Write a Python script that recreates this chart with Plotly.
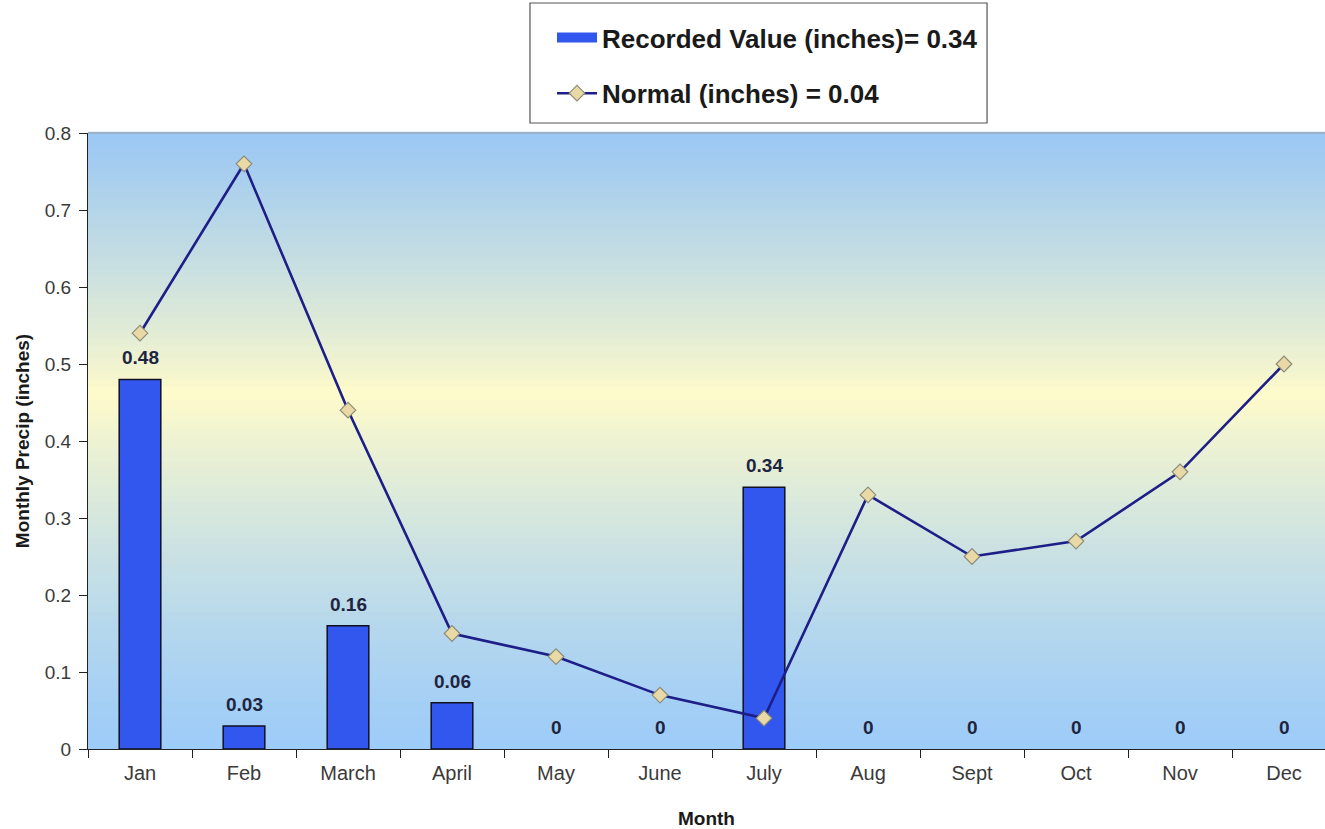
import plotly.graph_objects as go

months = ["Jan", "Feb", "March", "April", "May", "June", "July", "Aug", "Sept", "Oct", "Nov", "Dec"]
recorded = [0.48, 0.03, 0.16, 0.06, 0, 0, 0.34, 0, 0, 0, 0, 0]
normal = [0.54, 0.76, 0.44, 0.15, 0.12, 0.07, 0.04, 0.33, 0.25, 0.27, 0.36, 0.50]
recorded_name = "Recorded Value (inches)= 0.34"
normal_name = "Normal (inches) = 0.04"
y_ticks = [0, 0.1, 0.2, 0.3, 0.4, 0.5, 0.6, 0.7, 0.8]

FONT = "Arial, Liberation Sans, sans-serif"
BAR_COLOR = "#3157EE"

fig = go.Figure()

fig.add_trace(go.Bar(
    x=months, y=recorded, name=recorded_name, width=0.4,
    marker=dict(color=BAR_COLOR,
                line=dict(color="#101020", width=[1.5 if v > 0 else 0 for v in recorded])),
    showlegend=False,
))
# legend-only entry drawn as a wide blue block, like the original legend key
fig.add_trace(go.Scatter(
    x=[None], y=[None], name=recorded_name, mode="lines",
    line=dict(color=BAR_COLOR, width=15), legendgroup="a",
))
fig.add_trace(go.Scatter(
    x=months, y=normal, name=normal_name, mode="lines+markers",
    line=dict(color="#1E1E88", width=2.6),
    marker=dict(symbol="diamond", size=12, color="#E9D9A6", line=dict(color="#8C8C78", width=1.2)),
    legendgroup="b",
))

# bar value labels
for m, v in zip(months, recorded):
    fig.add_annotation(
        x=m, y=v, text=f"{v:g}", showarrow=False, yanchor="bottom", yshift=9,
        font=dict(family=FONT, size=19, color="#1F2540", weight="bold"),
    )

# background gradient (blue -> yellow -> blue)
def lerp(c1, c2, t):
    return tuple(round(a + (b - a) * t) for a, b in zip(c1, c2))

top_c = (154, 199, 244)
mid_c = (255, 251, 202)
bot_c = (158, 204, 248)
mid_f = 0.58
n = 90
shapes = []
for i in range(n):
    f0 = i / n
    f1 = (i + 1) / n
    fc = (f0 + f1) / 2
    if fc < mid_f:
        c = lerp(bot_c, mid_c, (fc / mid_f) ** 1.3)
    else:
        c = lerp(mid_c, top_c, ((fc - mid_f) / (1 - mid_f)) ** 0.85)
    shapes.append(dict(type="rect", xref="x domain", yref="y domain", x0=0, x1=1, y0=f0, y1=f1 + 0.002,
                       fillcolor="rgb(%d,%d,%d)" % c, line=dict(width=0), layer="below"))
shapes.append(dict(type="line", xref="x domain", yref="y domain", x0=0, x1=1, y0=1, y1=1,
                   line=dict(color="#9A9A9A", width=1)))
# legend frame
shapes.append(dict(type="rect", xref="paper", yref="paper", x0=0.3573, x1=0.7268, y0=1.0162, y1=1.2110,
                   fillcolor="white", line=dict(color="#555555", width=1.2), layer="below"))

span = 1237 / 104.0
fig.update_layout(
    width=1325, height=829,
    margin=dict(l=88, r=0, t=133, b=80, autoexpand=False),
    paper_bgcolor="white", plot_bgcolor="rgba(0,0,0,0)",
    shapes=shapes,
    showlegend=True,
    legend=dict(
        x=(552 - 88) / 1237, y=(749 - 14) / 616, xanchor="left", yanchor="top",
        bgcolor="rgba(0,0,0,0)", borderwidth=0,
        font=dict(family=FONT, size=26, color="#1A1A1A", weight="bold"),
        traceorder="grouped", tracegroupgap=19, itemwidth=40,
    ),
    xaxis=dict(
        type="category", range=[-0.5, -0.5 + span],
        showline=True, linecolor="#222222", linewidth=1.2,
        ticks="outside", ticklen=8, tickcolor="#222222", tickson="boundaries",
        tickfont=dict(family=FONT, size=20, color="#3A3A3A"), tickangle=0,
        ticklabelstandoff=6,
        showgrid=False, zeroline=False, automargin=False,
        title=dict(text="Month", font=dict(family=FONT, size=19, color="#1A1A1A", weight="bold"), standoff=29),
    ),
    yaxis=dict(
        range=[0, 0.8], tickvals=y_ticks, ticktext=[f"{t:g}" for t in y_ticks],
        showline=True, linecolor="#222222", linewidth=1.2,
        ticks="outside", ticklen=8, tickcolor="#222222",
        tickfont=dict(family=FONT, size=19, color="#3A3A3A"),
        ticklabelstandoff=4,
        showgrid=False, zeroline=False, automargin=False,
        title=dict(text="Monthly Precip (inches)", font=dict(family=FONT, size=19, color="#1A1A1A", weight="bold"), standoff=10),
    ),
)

fig.write_html("out.html", config={"displayModeBar": False},
               post_script="document.body.style.margin='0';")
